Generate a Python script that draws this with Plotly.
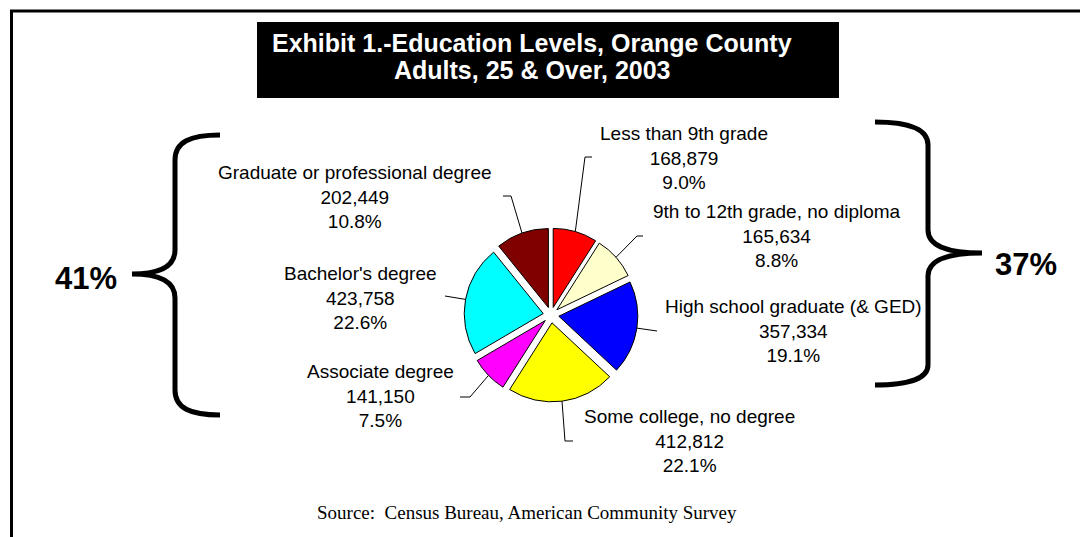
import math
import plotly.graph_objects as go

W, H = 1080, 537

# ---- data -------------------------------------------------------------
categories = [
    "Less than 9th grade",
    "9th to 12th grade, no diploma",
    "High school graduate (& GED)",
    "Some college, no degree",
    "Associate degree",
    "Bachelor's degree",
    "Graduate or professional degree",
]
counts = [168879, 165634, 357334, 412812, 141150, 423758, 202449]
shares = [9.0, 8.8, 19.1, 22.1, 7.5, 22.6, 10.8]
slice_colors = ["#FF0000", "#FFFFCC", "#0000FF", "#FFFF00", "#FF00FF", "#00FFFF", "#800000"]

# grouped totals shown beside the braces
higher_ed = categories[4:]          # associate and above
high_school_or_less = categories[:3]

# ---- layout helpers (pixel geometry) ----------------------------------
FONT = "Arial, 'Liberation Sans', sans-serif"
SERIF = "'Times New Roman', 'Liberation Serif', serif"

PIE_CX, PIE_CY = 551, 315       # pie centre in px
PIE_R = 79                      # pie radius in px
PULL = 0.1                      # explode fraction

box = 2 * PIE_R * (1 + PULL)
dom_x = [(PIE_CX - box / 2) / W, (PIE_CX + box / 2) / W]
dom_y = [(H - PIE_CY - box / 2) / H, (H - PIE_CY + box / 2) / H]

# label anchors (centre of each three-line block) and leader-line bends
label_pos = [(684, 158), (777, 236), (793, 331), (689, 441), (380, 396), (360, 298), (355, 197)]
leader_bends = [
    [(585, 157), (592, 157)],
    [(637, 236), (643, 236)],
    [(657, 331)],
    [(565, 441), (573, 441)],
    [(470, 397), (460, 397)],
    [(445, 296)],
    [(511, 196), (503, 196)],
]

fig = go.Figure()

fig.add_trace(go.Pie(
    labels=categories,
    values=counts,
    sort=False,
    direction="clockwise",
    rotation=0,
    pull=[PULL] * len(counts),
    marker=dict(colors=slice_colors, line=dict(color="black", width=1)),
    textinfo="none",
    hoverinfo="label+value+percent",
    showlegend=False,
    domain=dict(x=dom_x, y=dom_y),
))

shapes = []
annotations = []

# leader lines start at the middle of each exploded slice's outer arc
total = float(sum(counts))
cum = 0.0
r_out = PIE_R * (1 + PULL)
for i, c in enumerate(counts):
    mid = (cum + c / 2) / total * 2 * math.pi
    cum += c
    sx = PIE_CX + r_out * math.sin(mid)
    sy = PIE_CY - r_out * math.cos(mid)
    path = f"M {sx:.1f},{sy:.1f}" + "".join(f" L {bx},{by}" for bx, by in leader_bends[i])
    shapes.append(dict(type="path", xref="x", yref="y", path=path,
                       line=dict(color="black", width=1)))
    lx, ly = label_pos[i]
    annotations.append(dict(
        x=lx, y=ly, xref="x", yref="y", showarrow=False,
        xanchor="center", yanchor="middle", align="center",
        text=f"{categories[i]}<br>{counts[i]:,}<br>{shares[i]:.1f}%",
        font=dict(family=FONT, size=19, color="black"),
    ))

# outer frame (top and left rules)
shapes.append(dict(type="line", xref="x", yref="y", x0=10, x1=W, y0=11, y1=11,
                   line=dict(color="black", width=3)))
shapes.append(dict(type="line", xref="x", yref="y", x0=11.5, x1=11.5, y0=10, y1=H,
                   line=dict(color="black", width=3)))

# title block
shapes.append(dict(type="rect", xref="x", yref="y", x0=257, x1=839, y0=22, y1=98,
                   fillcolor="black", line=dict(width=0), layer="below"))
annotations.append(dict(x=532, y=43, xref="x", yref="y", showarrow=False,
                        text="<b>Exhibit 1.-Education Levels, Orange County</b>",
                        font=dict(family=FONT, size=25, color="white")))
annotations.append(dict(x=532, y=69.5, xref="x", yref="y", showarrow=False,
                        text="<b>Adults, 25 & Over, 2003</b>",
                        font=dict(family=FONT, size=25, color="white")))

# curly braces grouping the slices
left_brace = ("M 220,135 C 190,135 175,142 175,160 L 175,250 "
              "C 175,266 160,274 132,274 C 160,274 175,282 175,298 "
              "L 175,390 C 175,408 190,415 220,415")
right_brace = ("M 875,122 C 910,122 928,130 928,145 L 928,230 "
               "C 928,245 945,253 982,253 C 945,253 928,261 928,276 "
               "L 928,365 C 928,378 910,385 875,385")
for p in (left_brace, right_brace):
    shapes.append(dict(type="path", xref="x", yref="y", path=p,
                       line=dict(color="black", width=5)))

left_total = round(sum(shares[categories.index(c)] for c in higher_ed))
right_total = round(sum(shares[categories.index(c)] for c in high_school_or_less))
annotations.append(dict(x=86, y=278, xref="x", yref="y", showarrow=False,
                        text=f"<b>{left_total}%</b>",
                        font=dict(family=FONT, size=31, color="black")))
annotations.append(dict(x=1026, y=264, xref="x", yref="y", showarrow=False,
                        text=f"<b>{right_total}%</b>",
                        font=dict(family=FONT, size=31, color="black")))

# source note
annotations.append(dict(x=527, y=512, xref="x", yref="y", showarrow=False,
                        text="Source:  Census Bureau, American Community Survey",
                        font=dict(family=SERIF, size=19, color="black")))

fig.update_layout(
    width=W, height=H,
    margin=dict(l=0, r=0, t=0, b=0),
    paper_bgcolor="white", plot_bgcolor="rgba(0,0,0,0)",
    xaxis=dict(range=[0, W], visible=False, fixedrange=True),
    yaxis=dict(range=[H, 0], visible=False, fixedrange=True),
    shapes=shapes,
    annotations=annotations,
)

fig.write_html("out.html")
